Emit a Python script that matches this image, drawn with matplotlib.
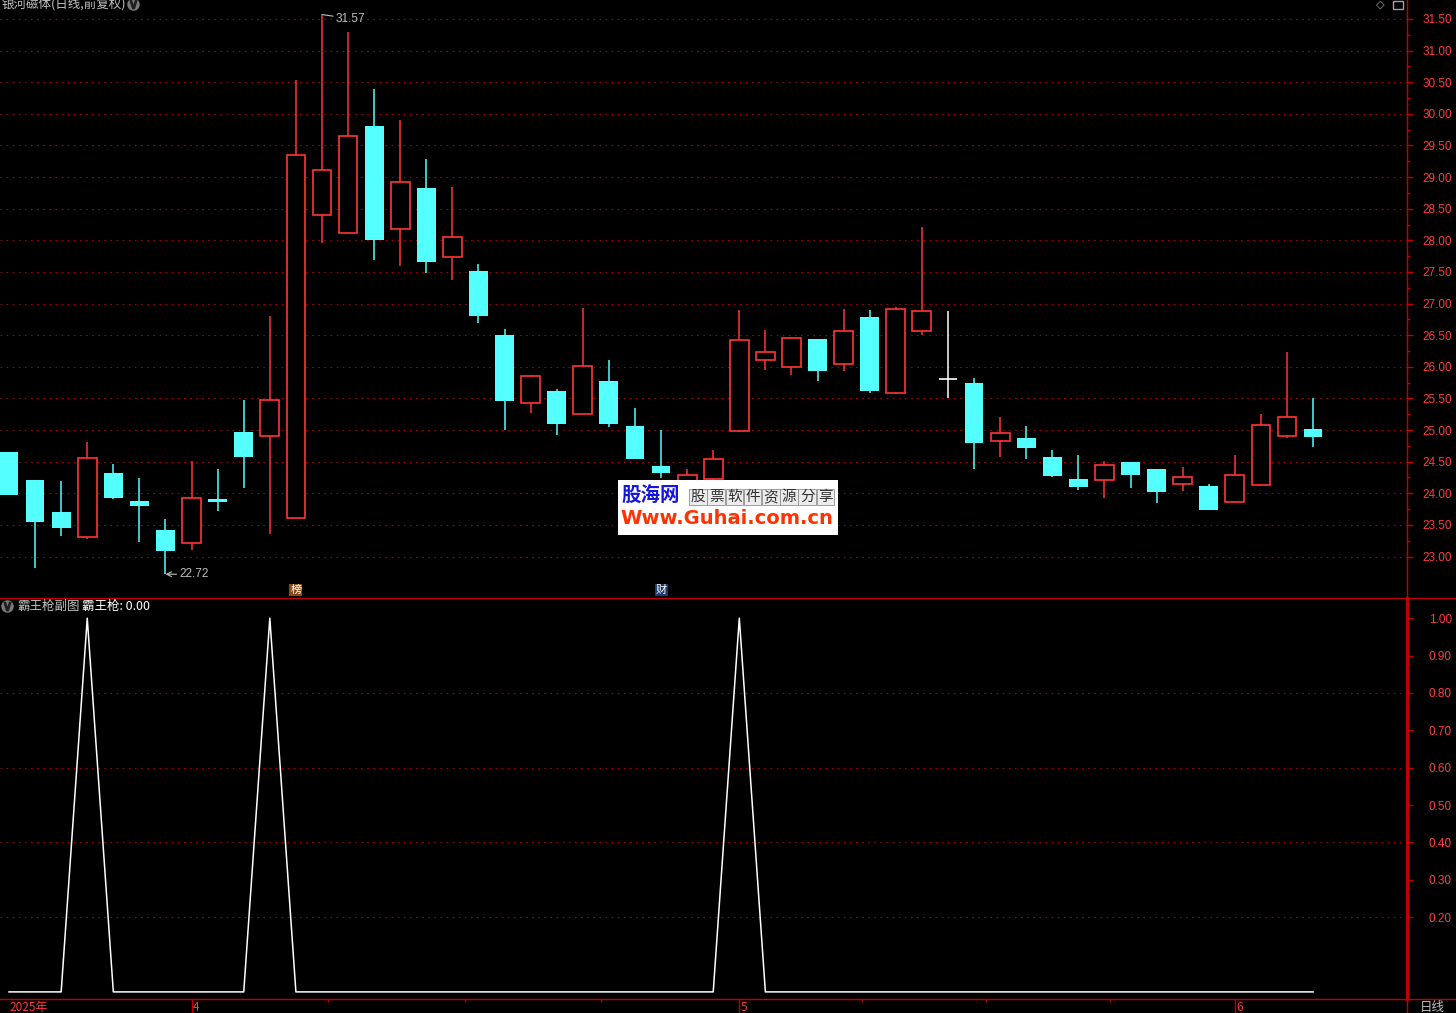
import numpy as np
import matplotlib.pyplot as plt
from matplotlib.lines import Line2D
from matplotlib.patches import Rectangle

plt.rcParams['font.family'] = ['Liberation Sans', 'Noto Sans CJK SC', 'DejaVu Sans']
CJK = ['Noto Sans CJK SC', 'DejaVu Sans']

W, H = 1456, 1013

# 日K线数据 (开, 高, 低, 收)
opens = [24.66, 24.21, 23.70, 23.31, 24.32, 23.88, 23.42, 23.21, 23.91, 24.97,
         24.90, 23.61, 28.40, 28.12, 29.80, 28.18, 28.82, 27.74, 27.51, 26.51,
         25.43, 25.62, 25.25, 25.78, 25.06, 24.43, 24.10, 24.22, 24.99, 26.10,
         25.99, 26.44, 26.04, 26.79, 25.59, 26.57, 25.81, 25.75, 24.82, 24.87,
         24.57, 24.22, 24.21, 24.49, 24.38, 24.15, 24.12, 23.87, 24.13, 24.90,
         25.02]
highs = [24.66, 24.21, 24.20, 24.81, 24.47, 24.24, 23.60, 24.51, 24.39, 25.48,
         26.80, 30.53, 31.57, 31.30, 30.40, 29.90, 29.28, 28.84, 27.63, 26.60,
         25.87, 25.65, 26.93, 26.11, 25.35, 25.00, 24.38, 24.68, 26.90, 26.58,
         26.47, 26.44, 26.91, 26.90, 26.95, 28.21, 26.88, 25.82, 25.20, 25.06,
         24.68, 24.61, 24.51, 24.49, 24.38, 24.41, 24.14, 24.60, 25.26, 26.24,
         25.51]
lows = [23.98, 22.82, 23.33, 23.27, 23.91, 23.23, 22.72, 23.11, 23.72, 24.09,
        23.36, 23.61, 27.95, 28.12, 27.69, 27.59, 27.49, 27.37, 26.69, 25.00,
        25.27, 24.92, 25.25, 25.05, 24.54, 24.24, 24.02, 24.15, 24.97, 25.95,
        25.87, 25.78, 25.94, 25.59, 25.57, 26.51, 25.50, 24.38, 24.57, 24.54,
        24.25, 24.05, 23.92, 24.08, 23.84, 24.03, 23.73, 23.87, 24.11, 24.87,
        24.73]
closes = [23.98, 23.55, 23.45, 24.56, 23.93, 23.80, 23.09, 23.92, 23.87, 24.57,
          25.47, 29.35, 29.11, 29.65, 28.01, 28.93, 27.65, 28.06, 26.80, 25.46,
          25.85, 25.10, 26.01, 25.10, 24.54, 24.32, 24.29, 24.54, 26.42, 26.24,
          26.45, 25.94, 26.57, 25.62, 26.92, 26.88, 25.81, 24.79, 24.96, 24.71,
          24.27, 24.10, 24.45, 24.29, 24.02, 24.26, 23.73, 24.29, 25.08, 25.21,
          24.89]

# 霸王枪信号
signal = [0, 0, 0, 1, 0, 0, 0, 0, 0, 0, 1, 0, 0, 0, 0, 0, 0, 0, 0, 0,
          0, 0, 0, 0, 0, 0, 0, 0, 1, 0, 0, 0, 0, 0, 0, 0, 0, 0, 0, 0,
          0, 0, 0, 0, 0, 0, 0, 0, 0, 0, 0]

month_idx = [0, 7, 28, 47]
month_lbl = ['2025年', '4', '5', '6']
minor_idx = [12.23, 17.48, 22.7, 32.7, 37.46, 42.2]

event_idx = [11, 25]
event_txt = ['榜', '财']
event_bg = ['#8a4a16', '#1c3a6e']

price_ticks = np.arange(23.0, 31.51, 0.5)
sub_ticks = np.arange(0.2, 1.001, 0.1)
sub_grid = [0.2, 0.4, 0.6, 0.8]

RED = '#ff3434'
CYAN = '#54ffff'
AX = '#c00000'
GRID = '#a80000'
LBL = '#ff3c3c'
GRAY = '#c0c0c0'


def fx(p):
    return p / W


def fy(p):
    return 1 - p / H


fig = plt.figure(figsize=(W / 100, H / 100), dpi=100, facecolor='black')
ax = fig.add_axes([0, fy(597), fx(1407), 597 / H], facecolor='black')
ax2 = fig.add_axes([0, fy(999), fx(1407), (999 - 598) / H], facecolor='black')

x = np.arange(len(opens))
o = np.array(opens)
h = np.array(highs)
l = np.array(lows)
c = np.array(closes)
top = np.maximum(o, c)
bot = np.minimum(o, c)
up = c > o
dn = c < o
fl = c == o
bw = 0.72

# 阳线 空心红
ax.vlines(x[up], top[up], h[up], color=RED, lw=1.1, zorder=3)
ax.vlines(x[up], l[up], bot[up], color=RED, lw=1.1, zorder=3)
ax.bar(x[up], (top - bot)[up], bottom=bot[up], width=bw, facecolor='black',
       edgecolor=RED, linewidth=1.2, zorder=3)
# 阴线 实心青
ax.vlines(x[dn], l[dn], h[dn], color=CYAN, lw=1.1, zorder=3)
ax.bar(x[dn], (top - bot)[dn], bottom=bot[dn], width=bw, color=CYAN, zorder=4)
# 十字星
ax.vlines(x[fl], l[fl], h[fl], color='white', lw=1.1, zorder=3)
ax.hlines(c[fl], x[fl] - bw / 2, x[fl] + bw / 2, color='white', lw=1.2, zorder=3)

for v in price_ticks:
    ax.axhline(v, color=GRID, lw=0.8, ls=(0, (1.5, 4)), zorder=1)

xl = (-0.345, 53.6)
ax.set_xlim(xl)
ax.set_ylim(22.36, 31.80)
ax.set_xticks([])
ax.yaxis.tick_right()
ax.set_yticks(price_ticks)
ax.set_yticklabels([f'{v:.2f}' for v in price_ticks])
ax.set_yticks(price_ticks[:-1] + 0.25, minor=True)
ax.tick_params(axis='y', which='major', length=4.3, width=1, color=AX,
               labelcolor=LBL, labelsize=8.5, pad=28)
ax.tick_params(axis='y', which='minor', length=2.2, width=1, color=AX)
for t in ax.yaxis.get_major_ticks():
    t.label2.set_horizontalalignment('right')
for s in ax.spines.values():
    s.set_visible(False)
ax.spines['right'].set_visible(True)
ax.spines['right'].set_color(AX)

# 最高/最低标注
ih = int(np.argmax(h))
il = int(np.argmin(l))
ax.annotate(f'{h[ih]:.2f}', xy=(x[ih], h[ih]), xytext=(10, -3), textcoords='offset points',
            color=GRAY, fontsize=8.5, va='center', ha='left',
            arrowprops=dict(arrowstyle='-', color=GRAY, lw=0.8, shrinkA=0, shrinkB=0))
ax.annotate(f'{l[il]:.2f}', xy=(x[il], l[il]), xytext=(10, 0), textcoords='offset points',
            color=GRAY, fontsize=8.5, va='center', ha='left',
            arrowprops=dict(arrowstyle='->', color=GRAY, lw=0.8, shrinkA=0, shrinkB=0))

for i, txt, bg in zip(event_idx, event_txt, event_bg):
    ax.text(x[i], 0.012, txt, transform=ax.get_xaxis_transform(), ha='center', va='center',
            fontsize=8, color='white', family=CJK,
            bbox=dict(boxstyle='square,pad=0.08', fc=bg, ec='none'))

# 副图
ax2.plot(x, signal, color='white', lw=1.1)
for v in sub_grid:
    ax2.axhline(v, color=GRID, lw=0.8, ls=(0, (1.5, 4)), zorder=1)
ax2.set_xlim(xl)
ax2.set_ylim(-0.019, 1.054)
ax2.yaxis.tick_right()
ax2.set_yticks(sub_ticks)
ax2.set_yticklabels([f'{v:.2f}' for v in sub_ticks])
ax2.tick_params(axis='y', which='major', length=4.3, width=1, color=AX,
                labelcolor=LBL, labelsize=8.5, pad=28)
for t in ax2.yaxis.get_major_ticks():
    t.label2.set_horizontalalignment('right')
ax2.set_xticks(month_idx[1:])
ax2.set_xticklabels([])
ax2.set_xticks(minor_idx, minor=True)
ax2.tick_params(axis='x', which='major', length=10, width=1, color=AX)
ax2.tick_params(axis='x', which='minor', length=2.2, width=1, color=AX)
for s in ax2.spines.values():
    s.set_visible(False)
ax2.spines['right'].set_visible(True)
ax2.spines['right'].set_color(AX)
ax2.spines['right'].set_linewidth(2.2)
ax2.spines['bottom'].set_visible(True)
ax2.spines['bottom'].set_color(AX)

for i, lb in zip(month_idx, month_lbl):
    ax2.annotate(lb, xy=(i, 0), xycoords=ax2.get_xaxis_transform(), xytext=(1 if i else 0, -1.5),
                 textcoords='offset points', ha='left', va='top', color=LBL,
                 fontsize=8.5, family=CJK)

# 分隔线
fig.add_artist(Line2D([0, 1], [fy(597.5), fy(597.5)], color=AX, lw=1, transform=fig.transFigure))
fig.add_artist(Line2D([0, 1], [fy(999), fy(999)], color=AX, lw=1, transform=fig.transFigure))
fig.add_artist(Line2D([fx(1407), fx(1407)], [0, 1], color=AX, lw=1, transform=fig.transFigure))

# 标题
fig.text(fx(2), fy(4), '银河磁体(日线,前复权)', color=GRAY, fontsize=9, family=CJK,
         ha='left', va='center')
fig.add_artist(Line2D([fx(133)], [fy(4)], marker='o', ms=9, color='#7a7a7a', mec='none',
                      transform=fig.transFigure))
fig.add_artist(Line2D([fx(133)], [fy(4)], marker=r'$\vee$', ms=6, color='#202020',
                      transform=fig.transFigure))
fig.text(fx(1380), fy(5), '◇', color='#a0a0a0', fontsize=8, family='DejaVu Sans',
         ha='center', va='center')
fig.add_artist(Rectangle((fx(1393), fy(9)), fx(10), 8 / H, fill=False, ec='#a0a0a0', lw=1,
                         transform=fig.transFigure))

fig.add_artist(Line2D([fx(7)], [fy(606)], marker='o', ms=9, color='#7a7a7a', mec='none',
                      transform=fig.transFigure))
fig.add_artist(Line2D([fx(7)], [fy(606)], marker=r'$\vee$', ms=6, color='#202020',
                      transform=fig.transFigure))
fig.text(fx(17), fy(606), '霸王枪副图', color=GRAY, fontsize=9, family=CJK,
         ha='left', va='center')
fig.text(fx(82), fy(606), f'霸王枪: {signal[-1]:.2f}', color='white', fontsize=9, family=CJK,
         ha='left', va='center')
fig.text(fx(1420), fy(1001), '日线', color=GRAY, fontsize=9, family=CJK, ha='left', va='top')

# 水印
fig.add_artist(Rectangle((fx(618), fy(535)), fx(220), 55 / H, fc='white', ec='none',
                         transform=fig.transFigure, zorder=10))
fig.text(fx(621), fy(496), '股海网', color='#1414dc', fontsize=14, weight='bold', family=CJK,
         ha='left', va='center', zorder=11)
for k, ch in enumerate('股票软件资源分享'):
    fig.text(fx(698 + k * 18.2), fy(497), ch, color='#303030', fontsize=10.5, family=CJK,
             ha='center', va='center', zorder=11,
             bbox=dict(boxstyle='square,pad=0.1', fc='#ececec', ec='#909090', lw=0.6))
fig.text(fx(727), fy(519), 'Www.Guhai.com.cn', color='#ff3300', fontsize=14, weight='bold',
         family='DejaVu Sans', ha='center', va='center', zorder=11)

fig.savefig('out.png', dpi=100, facecolor='black')
